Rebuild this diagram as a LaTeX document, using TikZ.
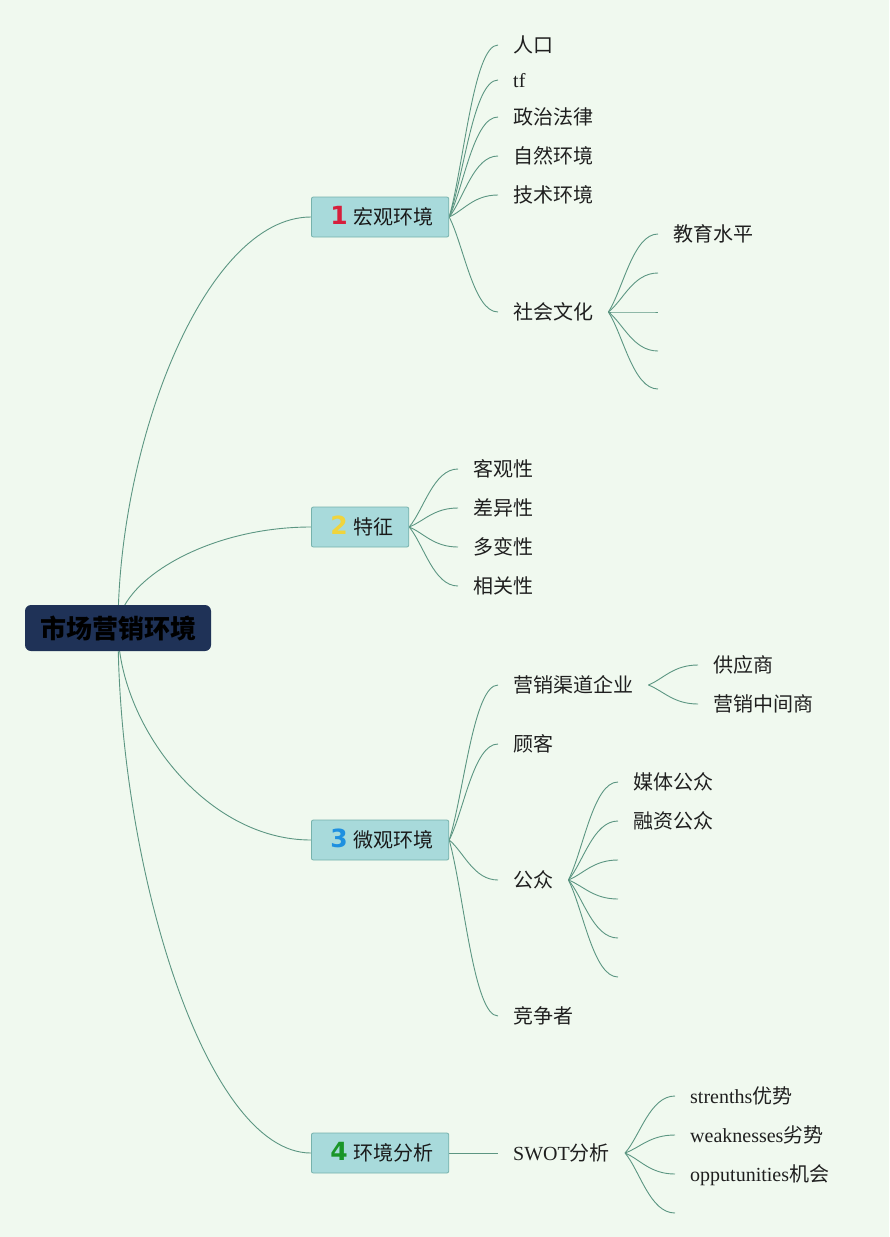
\documentclass[tikz,border=0pt]{standalone}
\usepackage{fontspec}
\setmainfont{Liberation Serif}
\newfontfamily\cjk{Noto Sans CJK SC}
\newfontfamily\numfont{DejaVu Sans}
\usetikzlibrary{calc}
\definecolor{bgmint}{RGB}{240,249,239}
\definecolor{rootblue}{RGB}{31,50,87}
\definecolor{boxteal}{RGB}{168,218,219}
\definecolor{boxline}{RGB}{118,178,172}
\definecolor{twiggreen}{RGB}{92,150,130}
\definecolor{numred}{RGB}{214,30,60}
\definecolor{numyellow}{RGB}{240,212,60}
\definecolor{numblue}{RGB}{30,144,224}
\definecolor{numgreen}{RGB}{26,150,40}
\pgfdeclarelayer{back}
\pgfdeclarelayer{edges}
\pgfsetlayers{back,edges,main}
\newcommand{\enword}[1]{{\rmfamily #1}}
\newcommand{\badge}[2]{\hspace{4pt}{\numfont\bfseries\fontsize{25}{25}\selectfont\color{#1}#2}\hspace{6pt}}

\begin{document}
\begin{tikzpicture}[x=1pt,y=1pt,
  rootbox/.style={fill=rootblue, rounded corners=6pt, minimum width=186pt, minimum height=46pt, inner sep=0pt, font=\cjk\bfseries\fontsize{26}{30}\selectfont, text=black},
  topic/.style={anchor=west, draw=boxline, fill=boxteal, rounded corners=2pt, line width=0.8pt, minimum height=40pt, inner xsep=15pt, inner ysep=0pt, text height=19pt, text depth=4pt, font=\cjk\fontsize{20}{24}\selectfont, text=black!90},
  leaf/.style={anchor=west, inner xsep=15pt, inner ysep=2pt, text height=19pt, text depth=4pt, font=\cjk\fontsize{20}{24}\selectfont, text=black!88},
  twig/.style={twiggreen, line width=0.9pt, to path={.. controls ($(\tikztostart)!0.3!(\tikztotarget)$) and ($(\tikztotarget)!0.5!(\tikztostart |- \tikztotarget)$) .. (\tikztotarget)}},
  stem/.style={twiggreen, line width=0.9pt, to path={.. controls ($(\tikztostart)!0.45!(\tikztostart |- \tikztotarget)$) and ($(\tikztotarget)!0.55!(\tikztostart |- \tikztotarget)$) .. (\tikztotarget)}}]
\useasboundingbox (0,0) rectangle (889,-1237);
\begin{pgfonlayer}{back}
\fill[bgmint] (0,0) rectangle (889,-1237);
\end{pgfonlayer}

\node[rootbox] (root) at (118,-628) {市场营销环境};

\node[topic] (macro) at (311,-217) {\badge{numred}{1}宏观环境};
\node[topic] (trait) at (311,-527) {\badge{numyellow}{2}特征};
\node[topic] (micro) at (311,-840) {\badge{numblue}{3}微观环境};
\node[topic] (study) at (311,-1153) {\badge{numgreen}{4}环境分析};

\node[leaf] (people) at (498,-45) {人口};
\node[leaf] (tf) at (498,-80) {\enword{tf}};
\node[leaf] (law) at (498,-117) {政治法律};
\node[leaf] (nature) at (498,-156) {自然环境};
\node[leaf] (tech) at (498,-195) {技术环境};
\node[leaf] (culture) at (498,-312) {社会文化};
\node[leaf] (edu) at (658,-234) {教育水平};
\coordinate (cu2) at (658,-273);
\coordinate (cu3) at (658,-312);
\coordinate (cu4) at (658,-351);
\coordinate (cu5) at (658,-389);

\node[leaf] (objective) at (458,-469) {客观性};
\node[leaf] (differ) at (458,-508) {差异性};
\node[leaf] (change) at (458,-547) {多变性};
\node[leaf] (related) at (458,-586) {相关性};

\node[leaf] (channel) at (498,-685) {营销渠道企业};
\node[leaf] (supplier) at (698,-665) {供应商};
\node[leaf] (agent) at (698,-704) {营销中间商};
\node[leaf] (client) at (498,-744) {顾客};
\node[leaf] (public) at (498,-880) {公众};
\node[leaf] (media) at (618,-782) {媒体公众};
\node[leaf] (finance) at (618,-821) {融资公众};
\coordinate (pu3) at (618,-860);
\coordinate (pu4) at (618,-899);
\coordinate (pu5) at (618,-938);
\coordinate (pu6) at (618,-977);
\node[leaf] (rival) at (498,-1016) {竞争者};

\node[leaf] (swot) at (498,-1153) {\enword{SWOT}分析};
\node[leaf] (strong) at (675,-1096) {\enword{strenths}优势};
\node[leaf] (weak) at (675,-1135) {\enword{weaknesses}劣势};
\node[leaf] (chance) at (675,-1174) {\enword{opputunities}机会};
\coordinate (sw4) at (675,-1213);

\begin{pgfonlayer}{edges}
\draw[stem] (root.center) to (macro.west);
\draw[stem] (root.center) to (trait.west);
\draw[stem] (root.center) to (micro.west);
\draw[stem] (root.center) to (study.west);

\draw[twig] (macro.east) to (people.west);
\draw[twig] (macro.east) to (tf.west);
\draw[twig] (macro.east) to (law.west);
\draw[twig] (macro.east) to (nature.west);
\draw[twig] (macro.east) to (tech.west);
\draw[twig] (macro.east) to (culture.west);
\draw[twig] (culture.east) to (edu.west);
\draw[twig] (culture.east) to (cu2);
\draw[twig] (culture.east) to (cu3);
\draw[twig] (culture.east) to (cu4);
\draw[twig] (culture.east) to (cu5);

\draw[twig] (trait.east) to (objective.west);
\draw[twig] (trait.east) to (differ.west);
\draw[twig] (trait.east) to (change.west);
\draw[twig] (trait.east) to (related.west);

\draw[twig] (micro.east) to (channel.west);
\draw[twig] (micro.east) to (client.west);
\draw[twig] (micro.east) to (public.west);
\draw[twig] (micro.east) to (rival.west);
\draw[twig] (channel.east) to (supplier.west);
\draw[twig] (channel.east) to (agent.west);
\draw[twig] (public.east) to (media.west);
\draw[twig] (public.east) to (finance.west);
\draw[twig] (public.east) to (pu3);
\draw[twig] (public.east) to (pu4);
\draw[twig] (public.east) to (pu5);
\draw[twig] (public.east) to (pu6);

\draw[twig] (study.east) to (swot.west);
\draw[twig] (swot.east) to (strong.west);
\draw[twig] (swot.east) to (weak.west);
\draw[twig] (swot.east) to (chance.west);
\draw[twig] (swot.east) to (sw4);
\end{pgfonlayer}
\end{tikzpicture}
\end{document}
